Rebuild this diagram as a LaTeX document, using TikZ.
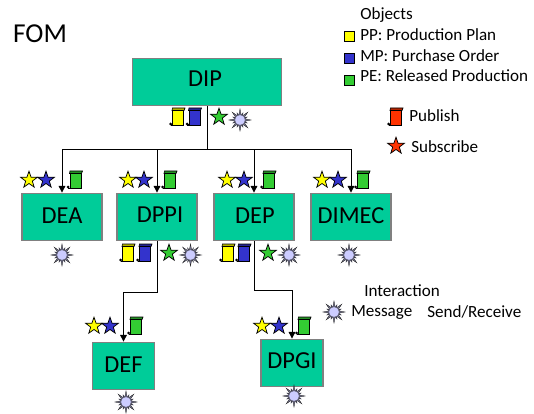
\documentclass[tikz,border=0pt]{standalone}
\usepackage{fontspec}
\setmainfont{Carlito}
\usetikzlibrary{shapes.geometric,arrows.meta}
\definecolor{boxgreen}{RGB}{0,204,153}
\definecolor{boxedge}{RGB}{128,128,128}
\definecolor{ppy}{RGB}{255,255,0}
\definecolor{mpb}{RGB}{51,51,204}
\definecolor{peg}{RGB}{51,204,51}
\definecolor{pubr}{RGB}{255,51,0}
\definecolor{sunc}{RGB}{204,204,255}
\tikzset{
  x=0.75pt,y=-0.75pt,
  fed/.style={draw=boxedge,line width=1.1pt,fill=boxgreen,inner sep=0pt,font=\fontsize{18.3}{19}\selectfont},
  conn/.style={draw=black,line width=0.7pt},
  arr/.style={conn,-{Triangle[length=5pt,width=5pt]}},
  txt/.style={inner sep=0pt,anchor=west,font=\fontsize{12.8}{13}\selectfont},
  swatch/.style={draw=black,line width=0.6pt,minimum size=7.5pt,inner sep=0pt},
  starnode/.style={star,star points=5,star point ratio=2.5,draw=black,line width=0.55pt,minimum size=13.2pt,inner sep=0pt},
  pics/scroll/.style={code={
    \fill[black] (-7.5,7.5) rectangle (3,9);
    \fill[black] (-7.3,7) circle (1.5);
    \draw[black,line width=0.55pt,fill=#1] (-5.5,-7) -- (5.5,-7) -- (5.5,8.7) -- (-5.5,8.7) -- cycle;
    \draw[black,line width=0.5pt,fill=#1!70!black] (-5.5,-9) -- (7,-9) -- (6,-6.5) -- (-6,-6.5) -- cycle;
  }},
  pics/sunicon/.style={code={
    \foreach \a in {0,45,...,315}{
      \draw[black!85,line width=0.25pt,fill=black!45!sunc] (\a:11) -- (\a+14:5) -- (\a-14:5) -- cycle;
      \fill[black!70!sunc] (\a+22.5:8.5) -- (\a+34:5) -- (\a+11:5) -- cycle;
    }
    \draw[black!55!sunc,line width=0.35pt,fill=sunc] (0,0) circle (5.3);
  }},
}
\newcommand{\substars}[4]{%
  \node[starnode,fill=ppy] (#1a) at (#2,#4) {};
  \node[starnode,fill=mpb] (#1b) at (#3,#4) {};
}
\begin{document}
\begin{tikzpicture}
\useasboundingbox (0,0) rectangle (534,413);
\node[inner sep=0pt,font=\fontsize{20.5}{21}\selectfont] (fom) at (40,34) {FOM};

% boxes
\node[fed,minimum width=112pt,minimum height=35.5pt] (dip) at (207,82) {\raisebox{4.5pt}{DIP}\hspace*{3pt}};
\node[fed,minimum width=60pt,minimum height=35.5pt] (dea) at (62,217) {\raisebox{2.5pt}{DEA}};
\node[fed,minimum width=60pt,minimum height=35.5pt] (dppi) at (157,217) {\hspace*{4.5pt}\raisebox{3pt}{DPPI}};
\node[fed,minimum width=60pt,minimum height=35.5pt] (dep) at (254,217) {\hspace*{1.5pt}\raisebox{2.5pt}{DEP}};
\node[fed,minimum width=60pt,minimum height=35.5pt] (dimec) at (351,217) {\raisebox{2.5pt}{DIMEC}};
\node[fed,minimum width=46.5pt,minimum height=35.5pt] (def) at (123.5,366) {\raisebox{2.5pt}{DEF}};
\node[fed,minimum width=46.5pt,minimum height=35.5pt] (dpgi) at (292,363) {\raisebox{3pt}{DPGI}};

% connectors
\coordinate (bus) at (207,149);
\draw[conn] (dip.south) -- (bus);
\draw[arr] (bus) -| (dea.north);
\draw[arr] (bus) -| (dppi.north);
\draw[arr] (bus) -| (dep.north);
\draw[arr] (bus) -| (dimec.north);
\coordinate (k1) at (157,292);
\coordinate (k2) at (254,290);
\draw[arr] (dppi.south) -- (k1) -| (def.north);
\draw[arr] (dep.south) -- (k2) -| (dpgi.north);

% DIP icons
\pic at (178,117) {scroll=ppy};
\pic at (194.5,117) {scroll=mpb};
\node[starnode,fill=peg] (s1) at (219,117) {};
\pic at (240,120) {sunicon};

% level two
\substars{p}{29}{46}{180}
\pic at (75.5,180) {scroll=peg};
\substars{q}{128}{144}{180}
\pic at (170,180) {scroll=peg};
\substars{r}{227}{244}{180}
\pic at (269,180) {scroll=peg};
\substars{t}{322}{338}{180}
\pic at (363,180) {scroll=peg};

% below level two
\pic at (128,253) {scroll=ppy};
\pic at (145,253) {scroll=mpb};
\node[starnode,fill=peg] (s2) at (169,253) {};
\pic at (190.5,255) {sunicon};
\pic at (228,253) {scroll=ppy};
\pic at (244,253) {scroll=mpb};
\node[starnode,fill=peg] (s3) at (268,253) {};
\pic at (289,255) {sunicon};
\pic at (62,255) {sunicon};
\pic at (349,255) {sunicon};

% level three
\substars{u}{94}{110}{326}
\pic at (136,326) {scroll=peg};
\substars{v}{262}{279}{326}
\pic at (304,326) {scroll=peg};
\pic at (126,402) {sunicon};
\pic at (294,396) {sunicon};

% legend
\node[txt] (lobj) at (360,15) {Objects};
\node[swatch,fill=ppy] (sw1) at (349,36) {};
\node[txt] (l1) at (360,35) {PP: Production Plan};
\node[swatch,fill=mpb] (sw2) at (349,58) {};
\node[txt] (l2) at (360,56) {MP: Purchase Order};
\node[swatch,fill=peg] (sw3) at (349,80) {};
\node[txt] (l3) at (360,76) {PE: Released Production};
\pic at (396,117) {scroll=pubr};
\node[txt] (lp) at (409,116) {Publish};
\node[starnode,fill=pubr] (ss) at (396,146) {};
\node[txt] (ls) at (411,147) {Subscribe};
\pic at (334,312) {sunicon};
\node[txt] (li) at (364,291) {Interaction};
\node[txt] (lm) at (351,312) {Message};
\node[txt] (lr) at (427,312) {Send/Receive};
\end{tikzpicture}
\end{document}
